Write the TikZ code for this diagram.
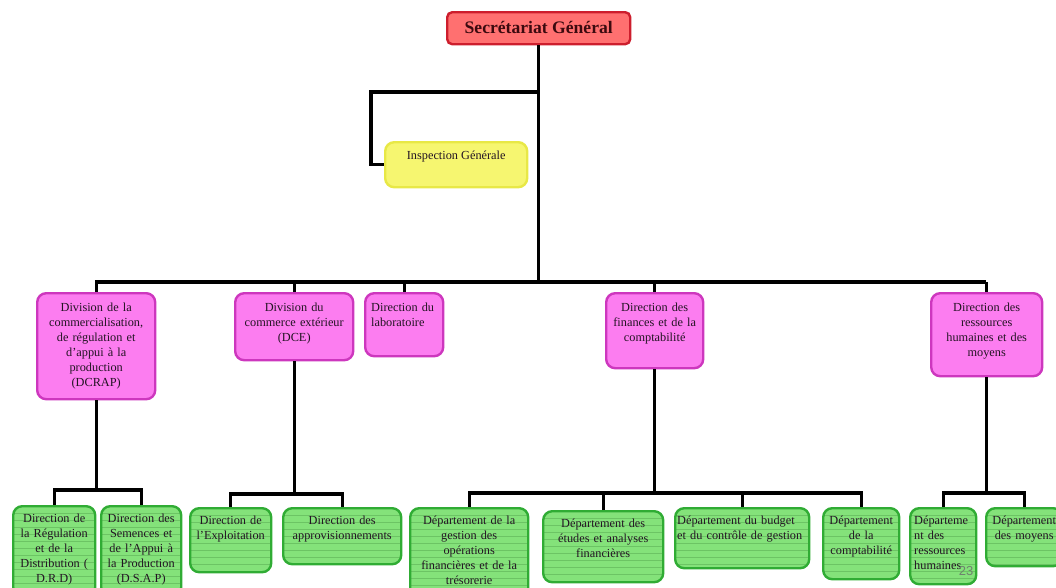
\documentclass[tikz,border=0pt]{standalone}
\usepackage{fontspec}
\setmainfont{Liberation Serif}
\newfontfamily\pagefont{Liberation Sans}
\begin{document}
\begin{tikzpicture}[x=1pt,y=-1pt,
  conn/.style={line width=3.2pt,black},
  boxbase/.style={draw,line width=2.4pt,rounded corners=9pt,anchor=north west,inner sep=0pt},
  redbox/.style={boxbase,fill=sgfill,draw=sgdraw,rounded corners=5pt},
  yelbox/.style={boxbase,fill=igfill,draw=igdraw},
  pinkbox/.style={boxbase,fill=pkfill,draw=pkdraw},
  greenbox/.style={boxbase,fill=grfill,draw=grdraw,
    path picture={\foreach \k in {1,...,14}{\draw[grline,line width=0.6pt]
      ([yshift=-\k*7pt]path picture bounding box.north west) -- ([yshift=-\k*7pt]path picture bounding box.north east);}}},
  txt/.style={anchor=north,inner sep=0pt,align=center,font=\fontsize{12.3}{15}\selectfont,text=txtcol},
  txtl/.style={txt,align=left},
]
\definecolor{sgfill}{RGB}{255,112,112}
\definecolor{sgdraw}{RGB}{205,30,45}
\definecolor{igfill}{RGB}{246,246,112}
\definecolor{igdraw}{RGB}{232,232,70}
\definecolor{pkfill}{RGB}{252,125,240}
\definecolor{pkdraw}{RGB}{205,55,190}
\definecolor{grfill}{RGB}{132,226,122}
\definecolor{grdraw}{RGB}{48,172,52}
\definecolor{grline}{RGB}{108,196,100}
\definecolor{txtcol}{RGB}{35,20,35}
\definecolor{sgtxt}{RGB}{60,10,15}
\definecolor{pagecol}{RGB}{110,130,110}

\useasboundingbox (0,0) rectangle (1056,587);
\clip (0,0) rectangle (1056,587);

% top
\node[redbox,minimum width=183pt,minimum height=32pt] (sg) at (446,11) {};
\node[anchor=center,inner sep=0pt,font=\fontsize{17.6}{20}\selectfont\bfseries,text=sgtxt] (sg-t) at ([yshift=1pt]sg.center) {Secrétariat Général};

\node[yelbox,minimum width=142pt,minimum height=45pt] (ig) at (384,141) {};
\node[txt] (ig-t) at ([yshift=-10pt]ig.north) {Inspection Générale};

% level 2
\node[pinkbox,minimum width=118pt,minimum height=106pt] (dcrap) at (36,292) {};
\node[txt,text width=116pt] (dcrap-t) at ([yshift=-11pt]dcrap.north) {Division de la\\commercialisation,\\de régulation et\\d’appui à la\\production\\(DCRAP)};

\node[pinkbox,minimum width=118pt,minimum height=67pt] (dce) at (234,292) {};
\node[txt,text width=116pt] (dce-t) at ([yshift=-11pt]dce.north) {Division du\\commerce extérieur\\(DCE)};

\node[pinkbox,minimum width=78pt,minimum height=63pt] (lab) at (364,292) {};
\node[txtl,text width=74pt,anchor=north west] (lab-t) at ([xshift=7pt,yshift=-11pt]lab.north west) {Direction du\\laboratoire};

\node[pinkbox,minimum width=97pt,minimum height=75pt] (dfc) at (605,292) {};
\node[txt,text width=95pt] (dfc-t) at ([yshift=-11pt]dfc.north) {Direction des\\finances et de la\\comptabilité};

\node[pinkbox,minimum width=111pt,minimum height=83pt] (drh) at (930,292) {};
\node[txt,text width=109pt] (drh-t) at ([yshift=-11pt]drh.north) {Direction des\\ressources\\humaines et des\\moyens};

% level 3
\node[greenbox,minimum width=82pt,minimum height=90pt] (drd) at (12,505) {};
\node[txt,text width=82pt] (drd-t) at ([yshift=-9pt]drd.north) {Direction de\\la Régulation\\et de la\\Distribution (\\D.R.D)};

\node[greenbox,minimum width=80pt,minimum height=90pt] (dsap) at (100,505) {};
\node[txt,text width=80pt] (dsap-t) at ([yshift=-9pt]dsap.north) {Direction des\\Semences et\\de l’Appui à\\la Production\\(D.S.A.P)};

\node[greenbox,minimum width=81pt,minimum height=64pt] (expl) at (189,507) {};
\node[txt,text width=81pt] (expl-t) at ([yshift=-9pt]expl.north) {Direction de\\l’Exploitation};

\node[greenbox,minimum width=118pt,minimum height=56pt] (appro) at (282,507) {};
\node[txt,text width=116pt] (appro-t) at ([yshift=-9pt]appro.north) {Direction des\\approvisionnements};

\node[greenbox,minimum width=118pt,minimum height=90pt] (dgo) at (409,507) {};
\node[txt,text width=118pt] (dgo-t) at ([yshift=-9pt]dgo.north) {Département de la\\gestion des\\opérations\\financières et de la\\trésorerie};

\node[greenbox,minimum width=120pt,minimum height=71pt] (deaf) at (542,510) {};
\node[txt,text width=118pt] (deaf-t) at ([yshift=-9pt]deaf.north) {Département des\\études et analyses\\financières};

\node[greenbox,minimum width=134pt,minimum height=60pt] (budg) at (674,507) {};
\node[txtl,text width=134pt,anchor=north west] (budg-t) at ([xshift=3pt,yshift=-9pt]budg.north west) {Département du budget\\et du contrôle de gestion};

\node[greenbox,minimum width=76pt,minimum height=71pt] (compta) at (822,507) {};
\node[txt,text width=76pt] (compta-t) at ([yshift=-9pt]compta.north) {Département\\de la\\comptabilité};

\node[greenbox,minimum width=66pt,minimum height=76pt] (drhd) at (909,507) {};
\node[txtl,text width=62pt,anchor=north west] (drhd-t) at ([xshift=5pt,yshift=-9pt]drhd.north west) {Départeme\\nt des\\ressources\\humaines};

\node[greenbox,minimum width=76pt,minimum height=58pt] (moy) at (985,507) {};
\node[txt,text width=76pt] (moy-t) at ([yshift=-9pt]moy.north) {Département\\des moyens};

\node[anchor=center,inner sep=0pt,font=\pagefont\fontsize{13}{15}\selectfont,text=pagecol] (pg) at (966,571) {23};

% connectors
\coordinate (busL) at (95,282);
\coordinate (busR) at (986,282);
\coordinate (igk) at (371,92);
\draw[conn] (sg.south) -- (sg.south |- busL);
\draw[conn] (sg.south |- igk) -- (igk) |- (ig.west);
\draw[conn] (busL) -- (busR);
\foreach \n in {dcrap,dce,lab,dfc,drh}{\draw[conn] (\n.north |- busL) -- (\n.north);}

\coordinate (b1) at (0,490);
\draw[conn] (dcrap.south) -- (dcrap.south |- b1);
\draw[conn] (drd.north) -- (drd.north |- b1) -- (dsap.north |- b1) -- (dsap.north);

\coordinate (b2) at (0,494);
\draw[conn] (dce.south) -- (dce.south |- b2);
\draw[conn] (expl.north) -- (expl.north |- b2) -- (appro.north |- b2) -- (appro.north);

\coordinate (b3) at (0,493);
\draw[conn] (dfc.south) -- (dfc.south |- b3);
\draw[conn] (dgo.north) -- (dgo.north |- b3) -- (compta.north |- b3) -- (compta.north);
\draw[conn] (deaf.north) -- (deaf.north |- b3);
\draw[conn] (budg.north) -- (budg.north |- b3);

\draw[conn] (drh.south) -- (drh.south |- b3);
\draw[conn] (drhd.north) -- (drhd.north |- b3) -- (moy.north |- b3) -- (moy.north);
\end{tikzpicture}
\end{document}
